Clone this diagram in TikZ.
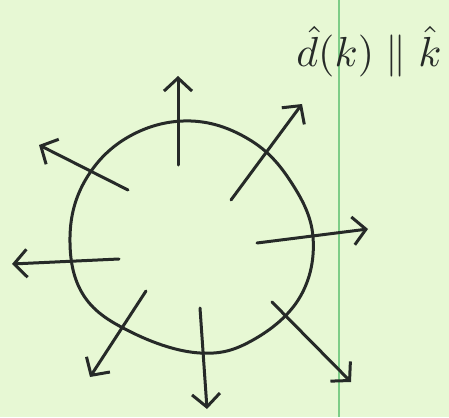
\documentclass[tikz,border=0pt]{standalone}
\usetikzlibrary{arrows.meta}
\definecolor{paper}{RGB}{231,248,212}
\definecolor{ink}{RGB}{38,42,40}
\definecolor{margin}{RGB}{125,205,135}
\tikzset{
  pen/.style={draw=ink, line width=3pt, line cap=round, line join=round},
  ray/.style={pen, -{Straight Barb[length=13pt,width=28pt,line width=3pt]}}
}
\begin{document}
\begin{tikzpicture}[x=1pt,y=-1pt]
\fill[paper] (0,0) rectangle (449,417);
\useasboundingbox (0,0) rectangle (449,417);
\draw[margin, line width=1.6pt] (339,0) -- (339,417);
% circle
\draw[pen] plot[smooth cycle, tension=0.65] coordinates {
 (313,237) (291,182) (250,140) (191,121) (130,136) (86,179) (70,237)
 (84,296) (133,333) (200,353) (253,340) (300,297)};
% rays
\coordinate (s1) at (178,165); \coordinate (e1) at (178,76);
\coordinate (s2) at (231,200); \coordinate (e2) at (302,104);
\coordinate (s3) at (128,190); \coordinate (e3) at (39,145);
\coordinate (s4) at (257,243); \coordinate (e4) at (368,229);
\coordinate (s5) at (119,259); \coordinate (e5) at (12,264);
\coordinate (s6) at (146,291); \coordinate (e6) at (90,377);
\coordinate (s7) at (200,308); \coordinate (e7) at (207,409);
\coordinate (s8) at (272,302); \coordinate (e8) at (351,382);
\foreach \i in {1,...,8} \draw[ray] (s\i) -- (e\i);
\node[ink, inner sep=0pt] (lbl) at (369,52)
  {\scalebox{4.2}{$\hat{d}(k)\parallel\hat{k}$}};
\end{tikzpicture}
\end{document}
